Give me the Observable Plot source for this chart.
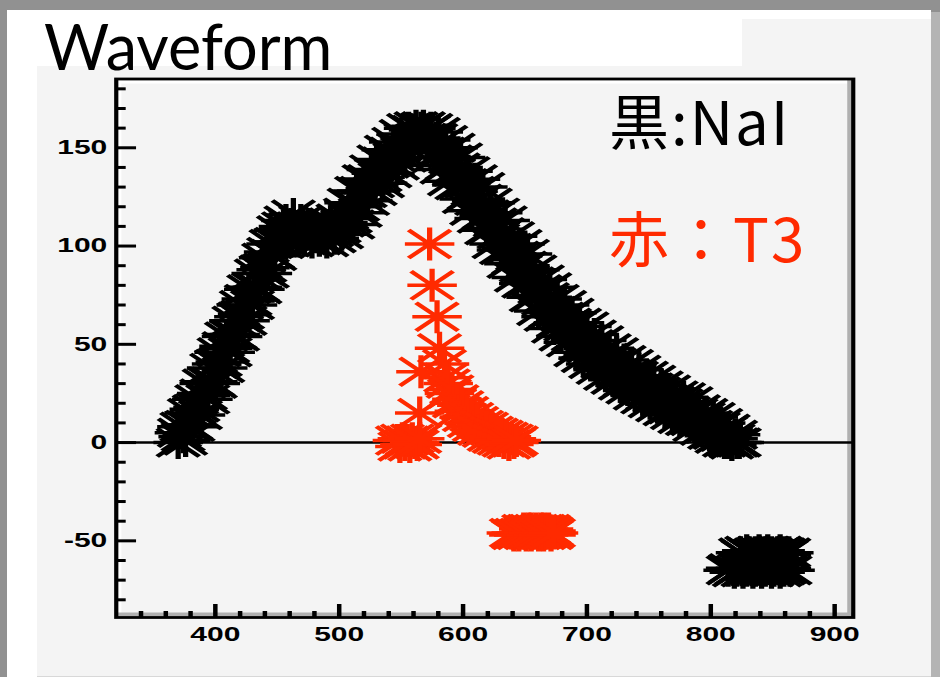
<!DOCTYPE html>
<html lang="ja">
<head>
<meta charset="utf-8">
<title>Waveform</title>
<script src="https://cdn.jsdelivr.net/npm/d3@7"></script>
<script src="https://cdn.jsdelivr.net/npm/@observablehq/plot@0.6"></script>
<style>
  html, body { margin: 0; padding: 0; }
  body { position: relative; width: 940px; height: 677px; overflow: hidden; background: #919191; }
  #sheet { position: absolute; left: 7px; top: 10px; width: 924px; height: 667px; background: #ffffff; }
  #pad { position: absolute; left: 37px; top: 19px; width: 894px; height: 657px; background: #f4f4f4; }
  #edge { position: absolute; left: 931px; top: 12px; width: 9px; height: 665px; background: #b4b4b4; }
  #foot { position: absolute; left: 37px; top: 676px; width: 894px; height: 1px; background: #d8d8d8; }
  #titlebox { position: absolute; left: 7px; top: 10px; width: 735px; height: 56px; background: #ffffff; }
  #title { position: absolute; left: 44px; top: 14px; font: 63px/63px Lato, sans-serif; color: #000; white-space: nowrap; }
  #chart { position: absolute; left: 0; top: 0; width: 940px; height: 677px; }
  .key { position: absolute; left: 609px; font: 60px/60px "Noto Sans CJK JP", sans-serif; letter-spacing: 2px; white-space: nowrap; }
</style>
</head>
<body>
<div id="sheet"></div>
<div id="pad"></div>
<div id="edge"></div>
<div id="foot"></div>
<div id="titlebox"></div>
<div id="title">Waveform</div>
<div id="chart"></div>
<div class="key" style="top:89px;color:#000000">黒:NaI</div>
<div class="key" style="top:206px;color:#ff2a00">赤：T3</div>
<script>
// NaI pulse (black), first sampling phase: time and amplitude
const naiTime = [370,373,376,379,382,385,388,391,394,397,400,403,406,409,412,415,418,421,424,427,
  430,433,436,439,442,445,448,451,454,457,460,463,466,469,472,475,478,481,484,487,
  490,493,496,499,502,505,508,511,514,517,520,523,526,529,532,535,538,541,544,547,
  550,553,556,559,562,565,568,571,574,577,580,583,586,589,592,595,598,601,604,607,
  610,613,616,619,622,625,628,631,634,637,640,643,646,649,652,655,658,661,664,667,
  670,673,676,679,682,685,688,691,694,697,700,703,706,709,712,715,718,721,724,727,
  730,733,736,739,742,745,748,751,754,757,760,763,766,769,772,775,778,781,784,787,
  790,793,796,799,802,805,808,811,814,817,820,823];
const naiAmp = [0,8,1,15,8,22,14,30,22,38,30,46,38,54,46,62,54,70,62,78,
  70,86,78,94,86,101,95,108,101,113,106,116,104,113,103,111,102,110,103,111,
  102,112,104,114,106,117,122,111,128,117,134,123,139,128,144,132,149,137,153,141,
  157,145,160,149,161,152,161,152,160,145,158,139,154,133,150,131,145,124,138,118,
  134,114,130,108,122,101,117,98,113,91,105,84,101,81,96,74,88,67,83,64,
  79,58,73,54,70,51,66,46,61,43,59,40,55,37,52,34,48,32,46,29,
  42,27,40,24,37,22,34,20,32,18,29,16,27,14,24,12,23,11,21,8,
  17,6,15,4,13,2,10,0,7,-1,4,0];
// NaI pulse, second sampling phase
const naiTime2 = [371,374,377,380,383,386,389,392,395,398,401,404,407,410,413,416,419,422,425,428,
  431,434,437,440,443,446,449,452,455,458,461,464,467,470,473,476,479,482,485,488,
  491,494,497,500,503,506,509,512,515,518,521,524,527,530,533,536,539,542,545,548,
  551,554,557,560,563,566,569,572,575,578,581,584,587,590,593,596,599,602,605,608,
  611,614,617,620,623,626,629,632,635,638,641,644,647,650,653,656,659,662,665,668,
  671,674,677,680,683,686,689,692,695,698,701,704,707,710,713,716,719,722,725,728,
  731,734,737,740,743,746,749,752,755,758,761,764,767,770,773,776,779,782,785,788,
  791,794,797,800,803,806,809,812,815,818,821];
const naiAmp2 = [5,3,9,9,17,18,25,24,31,31,40,41,49,48,55,55,64,65,73,72,
  79,79,88,89,97,96,102,102,110,109,111,108,110,107,109,106,108,105,108,106,
  108,107,110,109,112,116,114,121,120,128,127,134,132,137,135,143,142,148,145,150,
  148,155,154,159,155,160,155,159,154,155,148,148,141,144,138,140,132,132,126,128,
  123,124,116,116,109,112,106,107,99,99,93,95,89,90,82,82,75,78,72,74,
  66,67,61,64,59,61,54,55,49,52,48,50,44,45,40,43,39,41,35,37,
  31,35,31,34,27,29,24,28,23,26,20,22,17,21,17,20,14,16,11,15,
  10,13,7,9,4,8,3,6,0,2,0];
// NaI samples in the lower right group
const naiLowTime = [824,826,829,831,834,836,839,841,844,846,849,851,854,856,859,861,863,
  814,816,819,821,824,826,829,831,834,836,839,841,844,846,849,851,854,856,859,861,864];
const naiLowAmp = [-56,-57,-55,-56,-57,-56,-55,-57,-56,-55,-56,-57,-56,-55,-56,-57,-56,
  -65,-64,-66,-65,-64,-66,-65,-64,-66,-65,-64,-66,-65,-64,-66,-65,-64,-66,-65,-64,-65];

// T3 pulse (red)
const t3Time = [547,549,551,553,555,557,559,561,563,565,565,566,573,575,579,581,
  585,586,588,589,591,593,595,597,599,601,603,605,607,609,611,613,615,617,619,621,
  623,625,627,629,631,633,635,637,639,641,643];
const t3Amp = [1,-2,2,-1,1,-2,2,0,-1,2,15,36,101,80,64,48,
  40,33,30,25,27,20,22,16,19,13,16,10,13,8,11,6,9,5,8,3,
  6,2,5,1,4,0,3,-1,2,0,1];
// T3 samples in the lower middle group
const t3LowTime = [649,651,653,655,657,659,661,663,665,667,669,671,
  639,641,643,645,647,649,651,653,655,657,659,661,663,665,667,669,671,673];
const t3LowAmp = [-44,-45,-44,-44,-45,-44,-45,-44,-44,-45,-44,-45,
  -46,-47,-46,-47,-46,-46,-47,-46,-47,-46,-46,-47,-46,-47,-46,-46,-47,-46];

// axis ticks
const xTicks = [400,500,600,700,800,900];
const xMinorTicks = [340,360,380,420,440,460,480,520,540,560,580,620,640,660,680,720,740,760,780,820,840,860,880];
const yTicks = [-50,0,50,100,150];
const yMinorTicks = [-80,-70,-60,-40,-30,-20,-10,10,20,30,40,60,70,80,90,110,120,130,140,160,170,180];

const xDomain = [320, 915];
const yDomain = [-89, 185];
const stretch = 1.5; // the canvas is drawn wide, as on the original slide
const red = "#ff2a00";

// ROOT-style "*" marker: horizontal, vertical and two diagonal strokes
const asterisk = {
  draw(context, size) {
    const r = Math.sqrt(size / Math.PI);
    const d = r * 0.85;
    context.moveTo(-r, 0); context.lineTo(r, 0);
    context.moveTo(0, -r); context.lineTo(0, r);
    context.moveTo(-d, -d); context.lineTo(d, d);
    context.moveTo(-d, d); context.lineTo(d, -d);
  }
};
const pts = (ts, as) => ts.map((t, i) => ({t, a: as[i]}));
const star = (color) => ({x: "t", y: "a", symbol: asterisk, r: 16.5, fill: "none", stroke: color, strokeWidth: 3.5});

const chart = Plot.plot({
  width: 940 / stretch,
  height: 677,
  marginLeft: 115.5 / stretch,
  marginRight: (940 - 852.5) / stretch,
  marginTop: 78.5,
  marginBottom: 60,
  x: {domain: xDomain},
  y: {domain: yDomain},
  style: {
    background: "transparent",
    overflow: "visible",
    fontFamily: "'Liberation Sans', Arial, sans-serif",
    fontSize: "20px",
    fontWeight: "bold",
    color: "#000"
  },
  marks: [
    // frame bevel
    Plot.ruleX([xDomain[0]], {stroke: "#ffffff", strokeWidth: 2, dx: 2.4}),
    Plot.ruleY([yDomain[1]], {stroke: "#ffffff", strokeWidth: 3, dy: 3}),
    Plot.ruleX([xDomain[1]], {stroke: "#b0b0b0", strokeWidth: 2.6, dx: -2.7}),
    Plot.ruleY([yDomain[0]], {stroke: "#b0b0b0", strokeWidth: 3.5, dy: -3.2}),
    // baseline
    Plot.ruleY([0], {stroke: "#000", strokeWidth: 2.5}),
    // waveforms
    Plot.dot(pts(naiTime, naiAmp), star("#000")),
    Plot.dot(pts(naiTime2, naiAmp2), star("#000")),
    Plot.dot(pts(naiLowTime, naiLowAmp), star("#000")),
    Plot.dot(pts(t3Time, t3Amp), star(red)),
    Plot.dot(pts(t3LowTime, t3LowAmp), star(red)),
    Plot.frame({stroke: "#000", strokeWidth: 2.8}),
    // inward ticks
    Plot.axisY(yMinorTicks, {tickSize: -6.8, fill: "none", stroke: "#000", strokeWidth: 3}),
    Plot.axisY(yTicks, {tickSize: -13.7, fill: "none", stroke: "#000", strokeWidth: 3}),
    Plot.axisY(yTicks, {tickSize: 0, tickPadding: 6, tickFormat: (d) => String(d), label: null}),
    Plot.axisX(xMinorTicks, {tickSize: -6, fill: "none", stroke: "#000", strokeWidth: 3}),
    Plot.axisX(xTicks, {tickSize: -13, fill: "none", stroke: "#000", strokeWidth: 3}),
    Plot.axisX(xTicks, {tickSize: 0, tickPadding: 9, tickFormat: (d) => String(d), label: null})
  ]
});
chart.style.transformOrigin = "0 0";
chart.style.transform = `scaleX(${stretch})`;
chart.style.maxWidth = "none";
document.getElementById("chart").appendChild(chart);
</script>
</body>
</html>
